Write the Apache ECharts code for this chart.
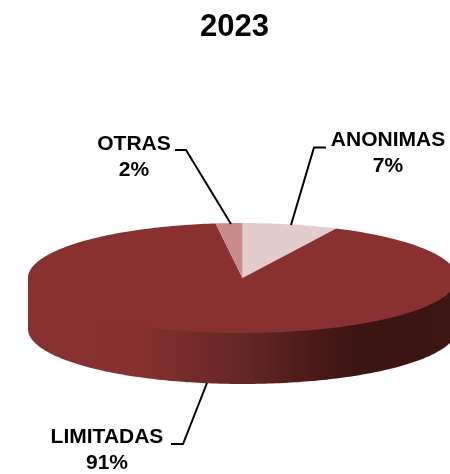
<!DOCTYPE html>
<html><head><meta charset="utf-8">
<style>html,body{margin:0;padding:0;background:#fff}#c{width:450px;height:474px}</style>
<script src="https://cdn.jsdelivr.net/npm/echarts@6/dist/echarts.min.js"></script>
</head><body><div id="c"></div>
<script>
const titleText = '2023';
const categories = ['ANONIMAS', 'LIMITADAS', 'OTRAS'];
const values = [7.2, 90.8, 2.0];
const sliceColors = ['#e2cccc', '#883130', '#c78b8a'];
const labelCenters = [[388, 153], [107, 450], [134, 157]];
const leaders = [
  [[326, 147.5], [314, 147.5], [291, 225]],
  [[171, 444], [183, 444], [207, 383]],
  [[175, 150], [186, 150], [231, 224]]
];
const CX = 242.5, CY = 278, RX = 214.5, RY = 55, DEPTH = 51;
const total = values.reduce((a, b) => a + b, 0);
const pt = (deg, dy) => {
  const r = deg * Math.PI / 180;
  return [CX + RX * Math.sin(r), CY + (dy || 0) - RY * Math.cos(r)];
};
const arc = (a, b, dy) => {
  const out = [], n = Math.max(2, Math.ceil(Math.abs(b - a)));
  for (let i = 0; i <= n; i++) out.push(pt(a + (b - a) * i / n, dy));
  return out;
};
const sideFill = new echarts.graphic.LinearGradient(28, 0, 456, 0, [
  {offset: 0, color: '#883130'},
  {offset: 0.24, color: '#863130'},
  {offset: 0.41, color: '#712b29'},
  {offset: 0.52, color: '#622624'},
  {offset: 0.64, color: '#4f1c19'},
  {offset: 0.78, color: '#3a1512'},
  {offset: 1, color: '#3c1613'}
], true);
function renderItem(params, api) {
  const i = params.dataIndex;
  let start = 0;
  for (let k = 0; k < i; k++) start += values[k];
  const a0 = start / total * 360, a1 = (start + api.value(1)) / total * 360;
  const children = [];
  const fa = Math.max(a0, 90), fb = Math.min(a1, 270);
  if (fb > fa) {
    children.push({type: 'polygon', z2: 1,
      shape: {points: [pt(fa, 0), pt(fb, 0)].concat(arc(fb, fa, DEPTH))},
      style: {fill: sideFill}});
  }
  children.push({type: 'polygon', z2: 2,
    shape: {points: [[CX, CY]].concat(arc(a0, a1, 0))},
    style: {fill: sliceColors[i]}});
  children.push({type: 'polyline', z2: 3,
    shape: {points: leaders[i]},
    style: {fill: null, stroke: '#000', lineWidth: 2}});
  children.push({type: 'text', z2: 4,
    style: {x: labelCenters[i][0], y: labelCenters[i][1],
      text: categories[i] + '\n' + Math.round(values[i]) + '%',
      fill: '#000', font: 'bold 21px "Liberation Sans"', lineHeight: 26,
      align: 'center', verticalAlign: 'middle'}});
  return {type: 'group', children};
}
const chart = echarts.init(document.getElementById('c'), null, {renderer: 'canvas'});
chart.setOption({
  animation: false,
  backgroundColor: '#fff',
  title: {text: titleText, left: 195, top: 7,
    textStyle: {fontFamily: 'Liberation Sans', fontWeight: 'bold', fontSize: 31, color: '#000'}},
  series: [{
    type: 'custom', coordinateSystem: 'none', renderItem,
    data: values.map((v, i) => [i, v, categories[i]])
  }]
});
</script></body></html>
